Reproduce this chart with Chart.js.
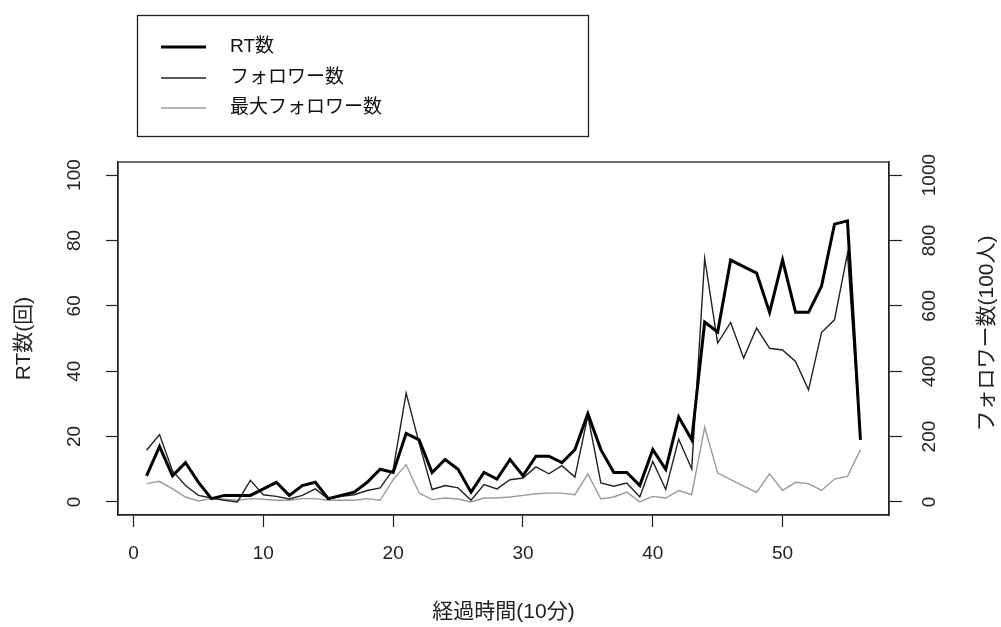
<!DOCTYPE html>
<html>
<head>
<meta charset="utf-8">
<script src="https://cdn.jsdelivr.net/npm/chart.js@4"></script>
<style>
  body { margin: 0; background: #fff; }
  #wrap { width: 1001px; height: 627px; }
</style>
</head>
<body>
<div id="wrap"><canvas id="chart-line" width="1001" height="627"></canvas></div>
<script>
// 経過時間(10分)
var times = [1,2,3,4,5,6,7,8,9,10,11,12,13,14,15,16,17,18,19,20,21,22,23,24,25,26,27,28,
             29,30,31,32,33,34,35,36,37,38,39,40,41,42,43,44,45,46,47,48,49,50,51,52,53,54,55,56];
// RT数(回)
var rtCount = [8,17,8,12,6,1,2,2,2,4,6,2,5,6,1,2,3,6,10,9,21,19,9,13,10,3,9,7,
               13,8,14,14,12,16,27,16,9,9,5,16,10,26,19,55,52,74,72,70,58,74,58,58,66,85,86,19];
// フォロワー数(100人)
var followers = [158,206,95,50,20,12,5,0,66,22,17,9,20,40,9,17,22,35,43,99,333,180,38,50,43,5,53,40,
                 68,73,107,86,111,76,264,58,48,58,15,124,38,192,101,745,486,549,440,532,470,465,430,343,518,557,760,190];
// 最大フォロワー数(100人)
var maxFollowers = [56,63,40,15,3,10,8,5,10,8,5,5,10,10,5,5,5,10,5,68,114,27,7,12,9,0,12,12,
                    15,20,25,27,27,22,86,9,15,30,0,17,12,35,22,229,89,68,48,29,86,35,60,56,35,70,78,160];

var seriesNames = ["RT数", "フォロワー数", "最大フォロワー数"];
var xTicks = [0,10,20,30,40,50];
var yTicks = [0,20,40,60,80,100];
var y2Ticks = [0,200,400,600,800,1000];

function pts(ys) {
    return times.map(function(t, i) { return {x: t, y: ys[i]}; });
}

var fontFamily = '"Liberation Sans", Arial, "Noto Sans CJK JP", sans-serif';

// box around plot, legend box, right axis title
var extras = {
    id: 'extras',
    afterDraw: function(chart) {
        var c = chart.ctx, a = chart.chartArea;
        c.save();
        c.strokeStyle = '#222';
        c.lineWidth = 1.3;
        c.strokeRect(a.left, a.top, a.right - a.left, a.bottom - a.top);

        // legend
        c.lineWidth = 1.3;
        c.strokeRect(137.5, 15.5, 451, 121);
        var rows = [47, 78, 108];
        chart.data.datasets.forEach(function(ds, i) {
            c.beginPath();
            c.strokeStyle = ds.borderColor;
            c.lineWidth = ds.borderWidth;
            c.moveTo(161, rows[i]);
            c.lineTo(206, rows[i]);
            c.stroke();
            c.fillStyle = '#111';
            c.font = '19px ' + fontFamily;
            c.textBaseline = 'middle';
            c.textAlign = 'left';
            c.fillText(ds.label, 230, rows[i]);
        });

        // right title, reading bottom to top
        c.translate(987, (a.top + a.bottom) / 2 - 5);
        c.rotate(-Math.PI / 2);
        c.fillStyle = '#222';
        c.font = '21px ' + fontFamily;
        c.textAlign = 'center';
        c.textBaseline = 'middle';
        c.fillText('フォロワー数(100人)', 0, 0);
        c.restore();
    }
};

var ctx = document.getElementById('chart-line');
var myLineChart = new Chart(ctx, {
    type: 'line',
    data: {
        datasets: [{
            label: seriesNames[0],
            data: pts(rtCount),
            borderColor: '#000',
            borderWidth: 3,
            yAxisID: 'y'
        }, {
            label: seriesNames[1],
            data: pts(followers),
            borderColor: '#222',
            borderWidth: 1.4,
            yAxisID: 'y2'
        }, {
            label: seriesNames[2],
            data: pts(maxFollowers),
            borderColor: '#9a9a9a',
            borderWidth: 1.4,
            yAxisID: 'y2'
        }]
    },
    options: {
        responsive: false,
        animation: false,
        elements: { point: { radius: 0 }, line: { tension: 0 } },
        layout: { padding: { top: 162, left: 0, right: 0, bottom: 0 } },
        plugins: {
            legend: { display: false },
            tooltip: { enabled: false },
            title: { display: false }
        },
        scales: {
            x: {
                type: 'linear',
                min: -1.2,
                max: 58.2,
                afterBuildTicks: function(s) { s.ticks = xTicks.map(function(v) { return {value: v}; }); },
                afterFit: function(s) { s.height = 112; },
                grid: { drawOnChartArea: false, tickLength: 12, color: '#222', tickWidth: 1.2 },
                border: { display: true, color: '#222', width: 1.3 },
                ticks: { color: '#222', padding: 15, font: { family: fontFamily, size: 19 } },
                title: {
                    display: true,
                    text: '経過時間(10分)',
                    color: '#222',
                    padding: { top: 0, bottom: 2 },
                    font: { family: fontFamily, size: 21 }
                }
            },
            y: {
                type: 'linear',
                position: 'left',
                min: -4,
                max: 104,
                afterBuildTicks: function(s) { s.ticks = yTicks.map(function(v) { return {value: v}; }); },
                afterFit: function(s) { s.width = 118; },
                grid: { drawOnChartArea: false, tickLength: 12, color: '#222', tickWidth: 1.2 },
                border: { display: true, color: '#222', width: 1.3 },
                ticks: {
                    color: '#222', padding: 15, minRotation: 90, maxRotation: 90, crossAlign: 'center',
                    font: { family: fontFamily, size: 19 }
                },
                title: {
                    display: true,
                    text: 'RT数(回)',
                    color: '#222',
                    padding: { top: 12, bottom: 0 },
                    font: { family: fontFamily, size: 21 }
                }
            },
            y2: {
                type: 'linear',
                position: 'right',
                min: -40,
                max: 1040,
                afterBuildTicks: function(s) { s.ticks = y2Ticks.map(function(v) { return {value: v}; }); },
                afterFit: function(s) { s.width = 112; },
                grid: { drawOnChartArea: false, tickLength: 13, color: '#222', tickWidth: 1.2 },
                border: { display: true, color: '#222', width: 1.3 },
                ticks: {
                    color: '#222', padding: 7, minRotation: 90, maxRotation: 90, crossAlign: 'center',
                    callback: function(v) { return String(v); },
                    font: { family: fontFamily, size: 19 }
                }
            }
        }
    },
    plugins: [extras]
});
</script>
</body>
</html>
